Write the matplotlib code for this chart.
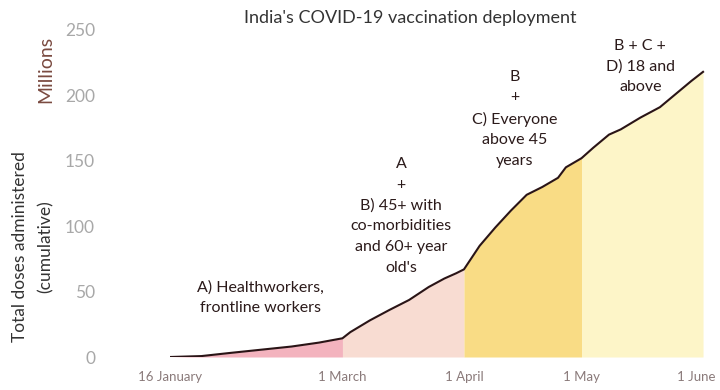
import numpy as np
import pandas as pd
import matplotlib.pyplot as plt
from matplotlib.transforms import ScaledTranslation

plt.rcParams['font.family'] = ['Lato', 'DejaVu Sans']

# cumulative doses administered, millions
dates = pd.to_datetime([
    "2021-01-16", "2021-01-24", "2021-01-31", "2021-02-08", "2021-02-16",
    "2021-02-23", "2021-03-01", "2021-03-03", "2021-03-08", "2021-03-13",
    "2021-03-18", "2021-03-23", "2021-03-27", "2021-03-30", "2021-04-01",
    "2021-04-03", "2021-04-05", "2021-04-09", "2021-04-13", "2021-04-17",
    "2021-04-21", "2021-04-25", "2021-04-27", "2021-05-01", "2021-05-04",
    "2021-05-08", "2021-05-11", "2021-05-16", "2021-05-21", "2021-05-25",
    "2021-05-29", "2021-06-01",
])
doses = np.array([
    0, 0.7, 3, 5.5, 8,
    11, 14.3, 19, 28, 36,
    43.6, 53.5, 60, 64, 67,
    76, 85, 99, 112, 124,
    130, 137, 145, 152, 160,
    170, 174, 183, 191, 201,
    211, 218,
])

# vaccination phases and their fill colours
phase_bounds = ["2021-01-16", "2021-03-01", "2021-04-01", "2021-05-01", "2021-06-01"]
phase_colors = ["#f3b3be", "#f8dcd2", "#f9dc85", "#fdf5c8"]

phase_labels = [
    "A) Healthworkers,\nfrontline workers",
    "A\n+\nB) 45+ with\nco-morbidities\nand 60+ year\nold's",
    "B\n+\nC) Everyone\nabove 45\nyears",
    "B + C +\nD) 18 and\nabove",
]
label_dates = pd.to_datetime(["2021-02-08", "2021-03-16", "2021-04-14", "2021-05-16"])
label_values = [45.5, 108, 182, 222]

tick_dates = pd.to_datetime(["2021-01-16", "2021-03-01", "2021-04-01", "2021-05-01", "2021-06-01"])
tick_labels = ["16 January", "1 March", "1 April", "1 May", "1 June"]

W, H = 720, 390
fig = plt.figure(figsize=(W / 100, H / 100), dpi=100)
ax = fig.add_axes([170 / W, (H - 357) / H, (705 - 170) / W, (357 - 30) / H])

bounds = pd.to_datetime(phase_bounds)
for a, b, col in zip(bounds[:-1], bounds[1:], phase_colors):
    m = (dates >= a) & (dates <= b)
    ax.fill_between(dates[m], 0, doses[m], color=col, lw=0)

ax.plot(dates, doses, color="#2a1416", lw=1.5)

for d, v, s in zip(label_dates, label_values, phase_labels):
    ax.text(d, v, s, ha="center", va="center", fontsize=11.5,
            color="#2b1a1a", linespacing=1.6)

ax.set_ylim(0, 250)
ax.set_xlim(pd.Timestamp("2021-01-16"), pd.Timestamp("2021-06-01 12:00"))
ax.set_yticks([0, 50, 100, 150, 200, 250])
ax.set_xticks(tick_dates)
ax.set_xticklabels(tick_labels)
ax.tick_params(axis="y", length=0, pad=54, labelsize=12.5, labelcolor="#a8a8a8")
ax.tick_params(axis="x", length=0, pad=10, labelsize=9.5, labelcolor="#8a7a7a")
# nudge the last date label so it stays inside the figure
last = ax.get_xticklabels()[-1]
last.set_transform(last.get_transform() + ScaledTranslation(-0.07, 0, fig.dpi_scale_trans))
for s in ax.spines.values():
    s.set_visible(False)

fig.text(410 / W, 1 - 18 / H, "India's COVID-19 vaccination deployment",
         ha="center", va="center", fontsize=13, color="#333333")
fig.text(20 / W, 1 - 247 / H, "Total doses administered", rotation=90,
         ha="center", va="center", fontsize=12.5, color="#333333")
fig.text(46 / W, 1 - 247 / H, "(cumulative)", rotation=90,
         ha="center", va="center", fontsize=12.5, color="#333333")
fig.text(46 / W, 1 - 69 / H, "Millions", rotation=90,
         ha="center", va="center", fontsize=14, color="#7a4a40")

fig.savefig("out.png", dpi=100)
